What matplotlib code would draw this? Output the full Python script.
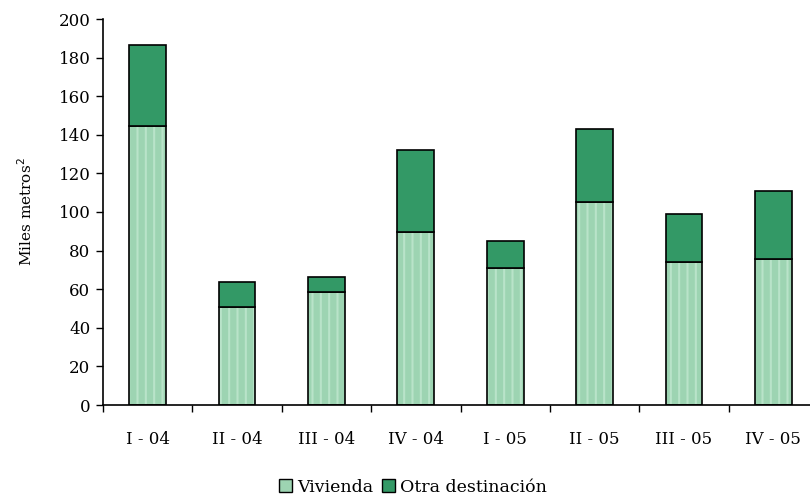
import matplotlib
matplotlib.use("Agg")
import matplotlib.pyplot as plt
import numpy as np
from matplotlib.patches import Patch

categories = ["I - 04", "II - 04", "III - 04", "IV - 04", "I - 05", "II - 05", "III - 05", "IV - 05"]
vivienda = [144.6, 50.8, 58.5, 89.6, 71.0, 105.0, 74.0, 75.6]
total = [186.5, 63.7, 66.3, 132.0, 85.0, 143.0, 99.0, 111.0]
otra = [t - v for t, v in zip(total, vivienda)]

plt.rcParams['font.family'] = ['DejaVu Serif']
plt.rcParams['hatch.linewidth'] = 1.5

fig = plt.figure(figsize=(8.1, 4.97), dpi=100)
W, H = 810, 497
ax = fig.add_axes([103 / W, 1 - 405 / H, (818 - 103) / W, (405 - 19) / H])

x = np.arange(len(categories))
bw = 0.41
light = '#9dd4b2'
dark = '#339966'
ax.bar(x, vivienda, bw, color=light, edgecolor='#b9e3c9', linewidth=0, hatch='||', zorder=2)
ax.bar(x, vivienda, bw, fill=False, edgecolor='black', linewidth=1.2, zorder=3)
ax.bar(x, otra, bw, bottom=vivienda, color=dark, edgecolor='black', linewidth=1.2, zorder=3)

ax.set_xlim(-0.5, len(categories) - 0.5)
ax.set_ylim(0, 200)
ax.set_yticks(np.arange(0, 201, 20))
ax.tick_params(axis='y', direction='out', length=5, width=1, labelsize=12, pad=4)
ax.set_xticks(np.arange(-0.5, len(categories) - 0.4, 1.0))
ax.set_xticklabels([])
ax.set_xticks(x, minor=True)
ax.set_xticklabels(categories, minor=True, fontsize=12)
ax.tick_params(axis='x', which='major', direction='out', length=5, width=1)
ax.tick_params(axis='x', which='minor', length=0, pad=19)

for s in ['top', 'right']:
    ax.spines[s].set_visible(False)
for s in ['left', 'bottom']:
    ax.spines[s].set_linewidth(1.2)

ax.set_ylabel("Miles metros$^2$", fontsize=11, labelpad=17)

handles = [Patch(facecolor=light, edgecolor='black', linewidth=1, label='Vivienda'),
           Patch(facecolor=dark, edgecolor='black', linewidth=1, label='Otra destinación')]
fig.legend(handles=handles, loc='center', bbox_to_anchor=(413 / W, 1 - 487 / H), ncol=2,
           frameon=False, fontsize=12.5, handlelength=0.75, handleheight=0.75,
           handletextpad=0.3, columnspacing=0.5)

fig.savefig("out.png", dpi=100)
